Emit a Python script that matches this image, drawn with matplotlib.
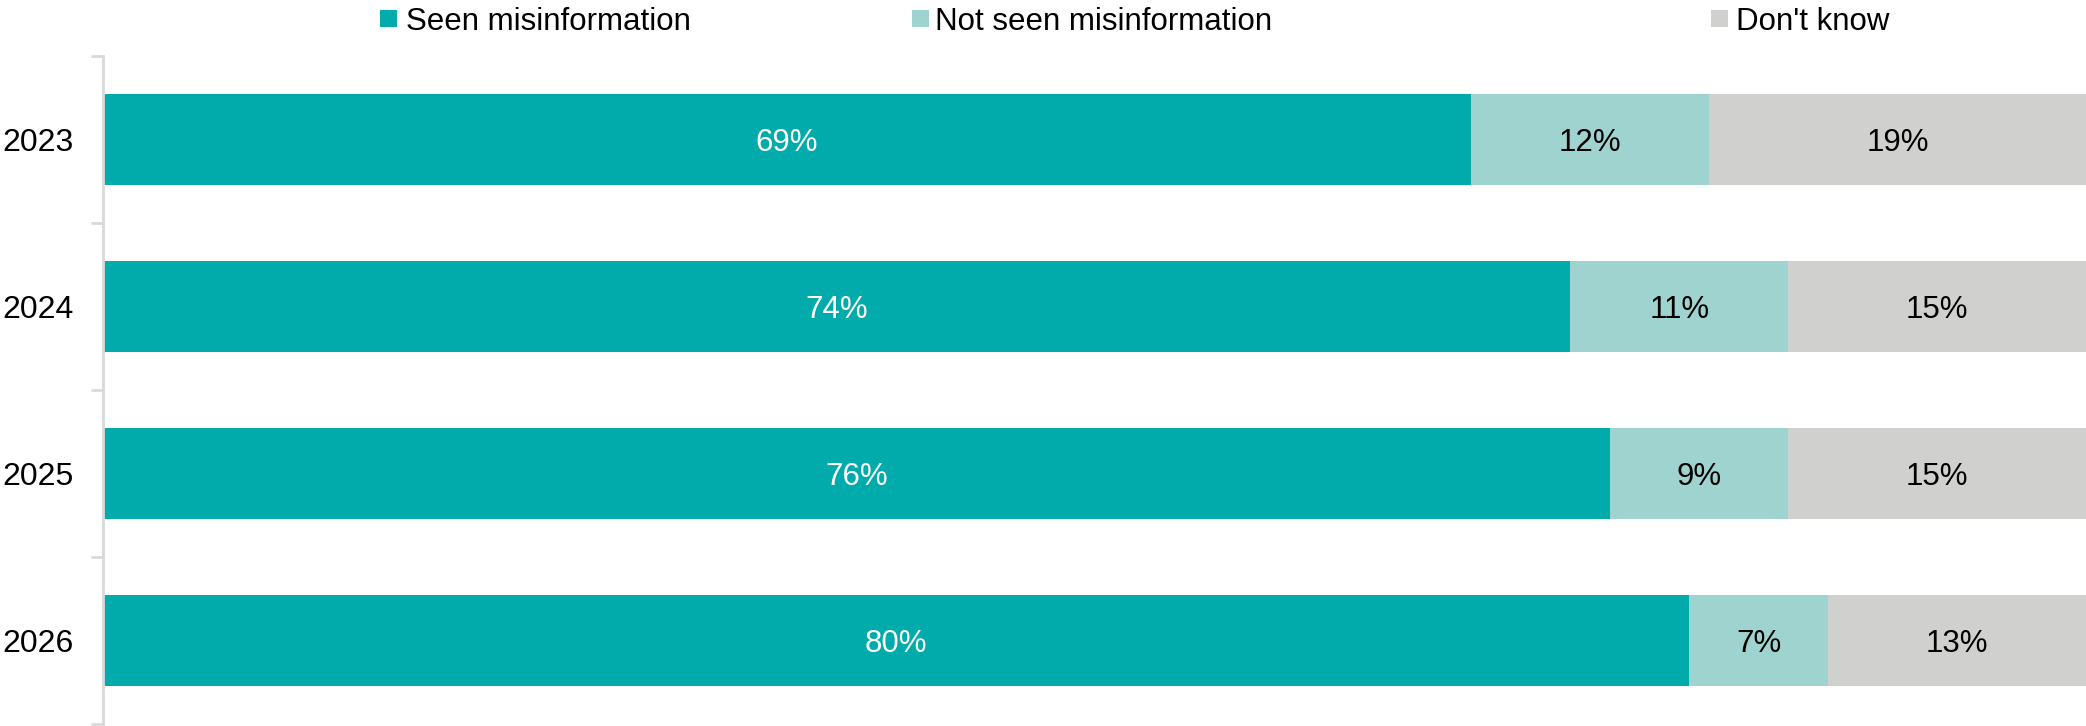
import matplotlib
matplotlib.use("Agg")
import matplotlib.pyplot as plt
from matplotlib.patches import Rectangle
import numpy as np

plt.rcParams['font.family'] = ['Liberation Sans', 'DejaVu Sans']

years = ["2023", "2024", "2025", "2026"]
series = ["Seen misinformation", "Not seen misinformation", "Don't know"]
seen = [69, 74, 76, 80]
not_seen = [12, 11, 9, 7]
dont_know = [19, 15, 15, 13]
colors = ["#02ABAB", "#9FD3CF", "#D0D0CF"]
text_colors = ["white", "black", "black"]

W, H = 2086, 726
fig = plt.figure(figsize=(W / 100, H / 100), dpi=100)
ax = fig.add_axes([102.5 / W, 2 / H, 1 - 102.5 / W, (724 - 56) / H])

y = np.arange(len(years))
left = np.zeros(len(years))
for vals, col, tc in zip([seen, not_seen, dont_know], colors, text_colors):
    vals = np.array(vals, dtype=float)
    ax.barh(y, vals, left=left, height=0.545, color=col, edgecolor='none')
    for yi, l, v in zip(y, left, vals):
        ax.text(l + v / 2, yi, f"{int(v)}%", ha='center', va='center_baseline',
                color=tc, fontsize=22.5)
    left += vals

ax.set_xlim(0, 100)
ax.set_ylim(len(years) - 0.5, -0.5)
ax.set_yticks(y)
ax.set_yticklabels(years, fontsize=23)
ax.tick_params(axis='y', which='major', length=0, pad=21)
ax.set_yticks(np.arange(-0.5, len(years), 1.0), minor=True)
ax.tick_params(axis='y', which='minor', length=9, width=2, color='#D9D9D9')
ax.set_xticks([])
for s in ['top', 'right', 'bottom']:
    ax.spines[s].set_visible(False)
ax.spines['left'].set_color('#D9D9D9')
ax.spines['left'].set_linewidth(2)

# legend
sq_x = [380, 912, 1711]
txt_x = [406, 935, 1736]
yc = 18
for name, col, sx, tx in zip(series, colors, sq_x, txt_x):
    fig.patches.append(Rectangle((sx / W, (H - yc - 8.5) / H), 17 / W, 17 / H,
                                 transform=fig.transFigure, facecolor=col,
                                 edgecolor='none'))
    fig.text(tx / W, (H - yc) / H, name, ha='left', va='center_baseline',
             fontsize=22.5)

fig.savefig("out.png", dpi=100)
